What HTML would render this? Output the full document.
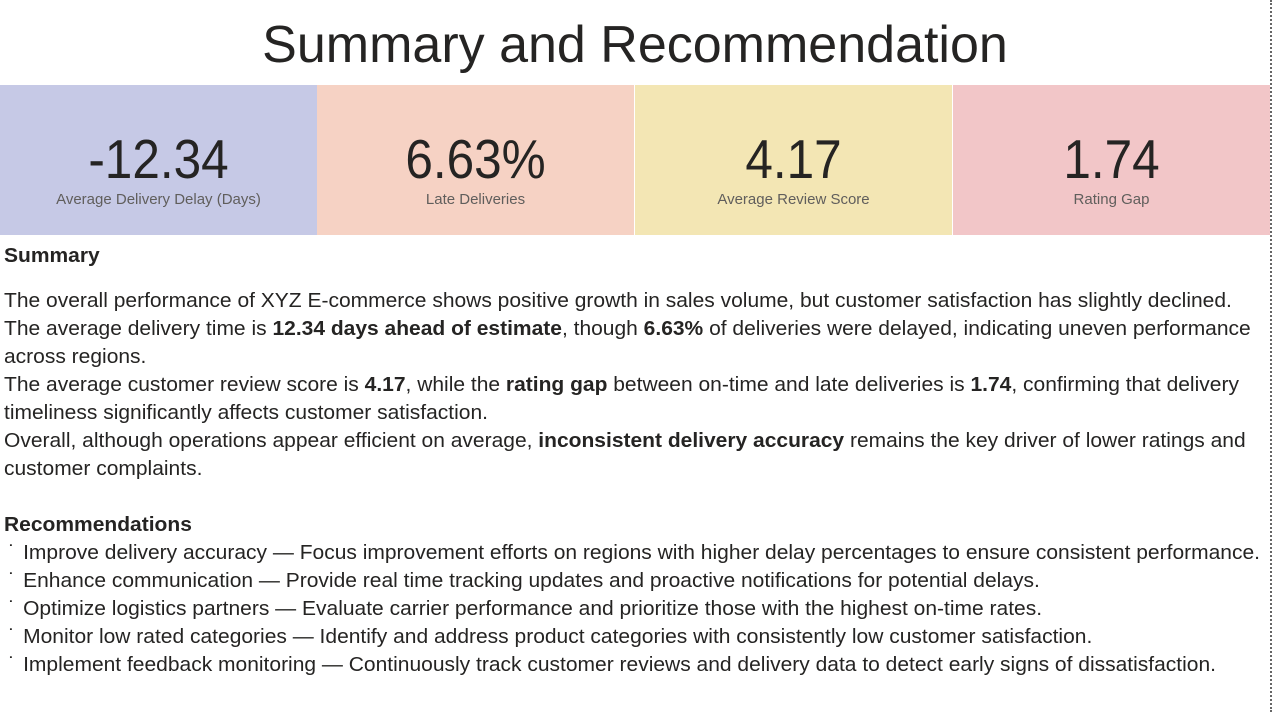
<!DOCTYPE html>
<html><head><meta charset="utf-8"><style>
body{margin:0;width:1274px;height:712px;background:#fff;font-family:"Liberation Sans",sans-serif;color:#252423;overflow:hidden;position:relative}
#title{position:absolute;top:12px;left:0;width:1270px;text-align:center;font-size:52px;line-height:66px;color:#252423}
.card{position:absolute;top:85px;height:150px;width:317px;text-align:center}
.card .v{position:absolute;top:44px;width:100%;font-size:55px;line-height:60px;transform:scaleX(0.9)}
.card .l{position:absolute;top:106px;width:100%;font-size:15px;color:#605e5c}
#vline{position:absolute;left:1270px;top:0;height:712px;border-left:2px dotted #666}
.t{position:absolute;left:4px;font-size:20px;white-space:nowrap;line-height:28px;transform-origin:0 0;transform:scaleX(1.05)}
.b{display:inline-block;width:14px;padding-left:8px;vertical-align:top}
</style></head><body>
<div id="title">Summary and Recommendation</div>
<div class="card" style="left:0;background:#c6c9e6"><div class="v">-12.34</div><div class="l">Average Delivery Delay (Days)</div></div>
<div class="card" style="left:317px;background:#f6d2c4"><div class="v">6.63%</div><div class="l">Late Deliveries</div></div>
<div class="card" style="left:635px;background:#f3e6b4"><div class="v">4.17</div><div class="l">Average Review Score</div></div>
<div class="card" style="left:953px;width:317px;background:#f2c6c8"><div class="v">1.74</div><div class="l">Rating Gap</div></div>
<div id="vline"></div>
<div class="t" style="top:242px;font-weight:bold">Summary</div>
<div class="t" style="top:287px">The overall performance of XYZ E-commerce shows positive growth in sales volume, but customer satisfaction has slightly declined.<br>The average delivery time is <b>12.34 days ahead of estimate</b>, though <b>6.63%</b> of deliveries were delayed, indicating uneven performance<br>across regions.<br>The average customer review score is <b>4.17</b>, while the <b>rating gap</b> between on-time and late deliveries is <b>1.74</b>, confirming that delivery<br>timeliness significantly affects customer satisfaction.<br>Overall, although operations appear efficient on average, <b>inconsistent delivery accuracy</b> remains the key driver of lower ratings and<br>customer complaints.</div>
<div class="t" style="top:511px;font-weight:bold">Recommendations</div>
<div class="t" style="top:539px;left:0"><span class="b">˙</span>Improve delivery accuracy — Focus improvement efforts on regions with higher delay percentages to ensure consistent performance.<br><span class="b">˙</span>Enhance communication — Provide real time tracking updates and proactive notifications for potential delays.<br><span class="b">˙</span>Optimize logistics partners — Evaluate carrier performance and prioritize those with the highest on-time rates.<br><span class="b">˙</span>Monitor low rated categories — Identify and address product categories with consistently low customer satisfaction.<br><span class="b">˙</span>Implement feedback monitoring — Continuously track customer reviews and delivery data to detect early signs of dissatisfaction.</div>
</body></html>
